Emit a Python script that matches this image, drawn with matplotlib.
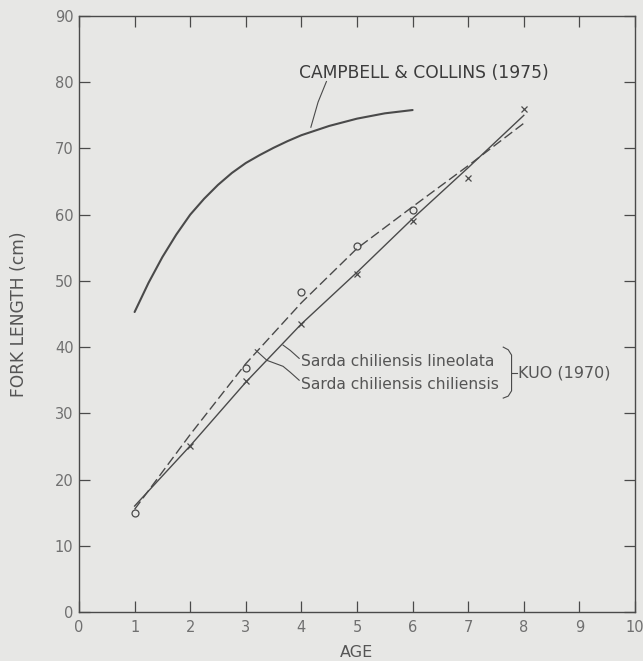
import matplotlib
matplotlib.use("Agg")
import matplotlib.pyplot as plt

# Growth curves: fork length (cm) against age (years)

# Campbell & Collins (1975) growth curve
campbell_age = [1.0, 1.25, 1.5, 1.75, 2.0, 2.25, 2.5, 2.75, 3.0, 3.25, 3.5, 3.75,
                4.0, 4.5, 5.0, 5.5, 6.0]
campbell_len = [45.3, 49.7, 53.6, 57.0, 60.0, 62.4, 64.5, 66.3, 67.8, 69.0, 70.1, 71.1,
                72.0, 73.4, 74.5, 75.3, 75.8]

# Kuo (1970) observed means
lineolata_age = [1, 3, 4, 5, 6]
lineolata_len = [14.9, 36.8, 48.3, 55.3, 60.7]
chiliensis_age = [2, 3, 4, 5, 6, 7, 8]
chiliensis_len = [25.1, 34.9, 43.5, 51.1, 59.1, 65.6, 76.0]

# fitted lines (dashed = lineolata, solid = chiliensis)
fit_age = [1, 2, 3, 4, 5, 6, 7, 8]
fit_lineolata = [15.5, 26.8, 37.5, 46.7, 54.9, 61.2, 67.4, 73.8]
fit_chiliensis = [16.0, 25.1, 34.7, 43.5, 51.3, 59.4, 67.1, 75.0]

x_ticks = list(range(0, 11))
y_ticks = list(range(0, 91, 10))

bg = "#e7e7e5"
ink = "#4a4a4a"
txt = "#555555"
light = "#707070"

plt.rcParams['font.family'] = ['DejaVu Sans']

fig = plt.figure(figsize=(6.43, 6.61), dpi=100, facecolor=bg)
ax = fig.add_axes([79 / 643, 1 - 612 / 661, 556 / 643, 596 / 661], facecolor=bg)

ax.plot(campbell_age, campbell_len, color=ink, lw=1.5, solid_capstyle='round')
ax.plot(fit_age, fit_lineolata, color=ink, lw=1.0, dashes=(7, 3))
ax.plot(fit_age, fit_chiliensis, color=ink, lw=1.0)
ax.plot(lineolata_age, lineolata_len, ls='none', marker='o', ms=5,
        mfc='none', mec=ink, mew=0.9)
ax.plot(chiliensis_age, chiliensis_len, ls='none', marker='x', ms=5,
        mec=ink, mew=0.9)

# annotations
ax.text(3.96, 81.4, "CAMPBELL & COLLINS (1975)", fontsize=12.3, color="#3c3c3c",
        ha='left', va='center')
ax.plot([4.45, 4.30, 4.17], [80.1, 77.0, 73.2], color=ink, lw=0.8)

ax.text(3.99, 37.8, "Sarda chiliensis lineolata", fontsize=11.2, color=txt,
        ha='left', va='center')
ax.text(3.99, 34.3, "Sarda chiliensis chiliensis", fontsize=11.2, color=txt,
        ha='left', va='center')
ax.plot([3.96, 3.80, 3.67], [38.3, 39.5, 40.3], color=ink, lw=0.8)
ax.plot([3.96, 3.80, 3.67, 3.38], [35.0, 36.2, 37.1, 38.0], color=ink, lw=0.8)
ax.plot([3.38, 3.17], [38.0, 39.6], color=ink, lw=0.8)

# bracket and KUO label
ax.plot([7.63, 7.72, 7.78, 7.78, 7.72, 7.63],
        [40.0, 39.6, 38.8, 33.4, 32.6, 32.3], color=ink, lw=0.8)
ax.plot([7.78, 7.88], [36.1, 36.1], color=ink, lw=0.8)
ax.text(7.89, 36.1, "KUO (1970)", fontsize=11.5, color=txt, ha='left', va='center')

ax.set_xlim(0, 10)
ax.set_ylim(0, 90)
ax.set_xticks(x_ticks)
ax.set_yticks(y_ticks)
ax.tick_params(direction='in', length=8, width=0.9, color=ink, top=True, right=True,
               labelcolor=light, labelsize=10.5)
ax.tick_params(axis='x', pad=6)
ax.tick_params(axis='y', pad=4)
for s in ax.spines.values():
    s.set_color(ink)
    s.set_linewidth(1.0)

ax.set_xlabel("AGE", fontsize=11.5, color=txt)
ax.xaxis.set_label_coords(0.5, -0.056)
ax.set_ylabel("FORK LENGTH (cm)", fontsize=12.3, color=txt)
ax.yaxis.set_label_coords(-0.092, 0.5)

fig.savefig("out.png", dpi=100, facecolor=bg)
